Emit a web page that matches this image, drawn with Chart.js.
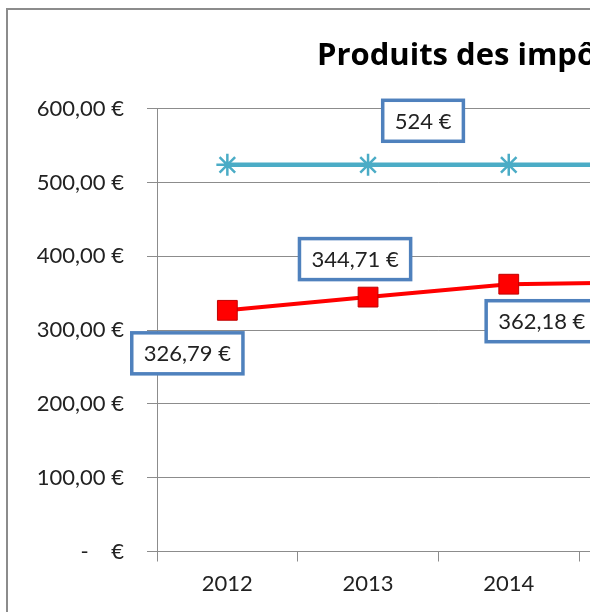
<!DOCTYPE html>
<html lang="fr">
<head>
<meta charset="utf-8">
<title>Produits des impôts</title>
<script src="https://cdn.jsdelivr.net/npm/chart.js@4/dist/chart.umd.min.js"></script>
<style>
  html, body { margin: 0; padding: 0; background: #fff; overflow: hidden; }
  #cadre { position: absolute; left: 6px; top: 8px; border: 2px solid #8c8c8c; background: #fff; }
  canvas { display: block; }
</style>
</head>
<body>
<div id="cadre"><canvas id="graphique"></canvas></div>
<script>
/* ============================================================
   DONNÉES
============================================================ */
const titre = "Produits des impôts";
const annees = ["2012", "2013", "2014", "2015"];
const produitsCommune = [326.79, 344.71, 362.18, 364.9];
const moyenneStrate = [524, 524, 524, 524];
const graduationsY = [0, 100, 200, 300, 400, 500, 600];

/* ============================================================
   MISE EN PAGE (le graphique Excel est coupé à droite)
============================================================ */
const GRIS = "#8c8c8c";
const TEXTE = "#222";
const LARGEUR_CATEGORIE = 140.7;
const AXE_Y = 149;      // largeur de la zone des graduations
const BAS_ZONE = 541.5; // bas de la zone de traçage
const HAUTEUR = 630;
const DEBUT_TITRE = 309;
const POLICE_TITRE = { family: "Open Sans", size: 31, weight: "bold" };

const mesure = document.createElement("canvas").getContext("2d");
mesure.font = "bold 31px 'Open Sans'";
const largeur = Math.round(2 * DEBUT_TITRE + mesure.measureText(titre).width);
const droiteZone = AXE_Y + annees.length * LARGEUR_CATEGORIE;

const canvas = document.getElementById("graphique");
canvas.width = largeur;
canvas.height = HAUTEUR;

const euros = (v) => v.toFixed(2).replace(".", ",") + " €";

/* ============================================================
   ÉTIQUETTES ENCADRÉES
============================================================ */
const etiquettesDonnees = {
  id: "etiquettesDonnees",
  afterDatasetsDraw(chart, args, opts) {
    const ctx = chart.ctx;
    ctx.save();
    ctx.font = opts.police;
    ctx.textAlign = "center";
    ctx.textBaseline = "middle";
    opts.series.forEach((serie) => {
      const meta = chart.getDatasetMeta(serie.dataset);
      const valeurs = chart.data.datasets[serie.dataset].data;
      serie.decalages.forEach((d, i) => {
        if (!d) return;
        const pt = meta.data[i];
        const texte = serie.format(valeurs[i]);
        const l = ctx.measureText(texte).width + 2 * opts.margeX;
        const h = opts.hauteur;
        const x = pt.x + d[0] - l / 2;
        const y = pt.y + d[1] - h / 2;
        ctx.fillStyle = "#fff";
        ctx.fillRect(x, y, l, h);
        ctx.lineWidth = opts.epaisseur;
        ctx.strokeStyle = opts.bordure;
        ctx.strokeRect(x, y, l, h);
        ctx.fillStyle = TEXTE;
        ctx.fillText(texte, pt.x + d[0], pt.y + d[1] + 1);
      });
    });
    ctx.restore();
  },
};

/* ============================================================
   GRAPHIQUE
============================================================ */
new Chart(canvas, {
  type: "line",
  data: {
    labels: annees,
    datasets: [
      {
        label: "Produits des impôts",
        data: produitsCommune,
        borderColor: "#ff0000",
        borderWidth: 4,
        pointStyle: "rect",
        pointRadius: 14,
        pointBackgroundColor: "#ff0000",
        pointBorderColor: "#c00000",
        pointBorderWidth: 1,
        tension: 0,
      },
      {
        label: "Moyenne de la strate",
        data: moyenneStrate,
        borderColor: "#4bacc6",
        borderWidth: 4.5,
        pointStyle: "star",
        pointRadius: 11,
        pointBorderColor: "#4bacc6",
        pointBorderWidth: 2.5,
        tension: 0,
      },
    ],
  },
  options: {
    responsive: false,
    animation: false,
    layout: { padding: 0 },
    scales: {
      x: {
        offset: true,
        grid: { offset: true, drawOnChartArea: false, color: GRIS, tickLength: 10 },
        border: { color: GRIS },
        ticks: { font: { family: "Lato", size: 22 }, color: TEXTE, padding: 9 },
        afterFit: (s) => { s.height = HAUTEUR - BAS_ZONE; },
      },
      y: {
        min: graduationsY[0],
        max: graduationsY[graduationsY.length - 1],
        ticks: {
          stepSize: graduationsY[1] - graduationsY[0],
          padding: 23,
          font: { family: "Lato", size: 22 },
          color: TEXTE,
          callback: (v) => (v === 0 ? "-    €" : euros(v)),
        },
        grid: { color: GRIS, tickLength: 10 },
        border: { color: GRIS },
        afterFit: (s) => { s.width = AXE_Y; },
      },
      marge: {
        position: "right",
        ticks: { display: false },
        grid: { display: false },
        border: { display: false },
        afterFit: (s) => { s.width = largeur - droiteZone; },
      },
    },
    plugins: {
      legend: { display: false },
      tooltip: { enabled: false },
      title: {
        display: true,
        text: titre,
        color: "#000",
        font: POLICE_TITRE,
        padding: { top: 28, bottom: 33.5 },
      },
      etiquettesDonnees: {
        police: "22px Lato",
        margeX: 12,
        hauteur: 41,
        epaisseur: 3.5,
        bordure: "#4f81bd",
        series: [
          { dataset: 0, format: euros, decalages: [[-40, 43], [-13, -38], [33, 37], [33, 37]] },
          { dataset: 1, format: (v) => v + " €", decalages: [null, [55, -44], null, null] },
        ],
      },
    },
  },
  plugins: [etiquettesDonnees],
});
</script>
</body>
</html>
